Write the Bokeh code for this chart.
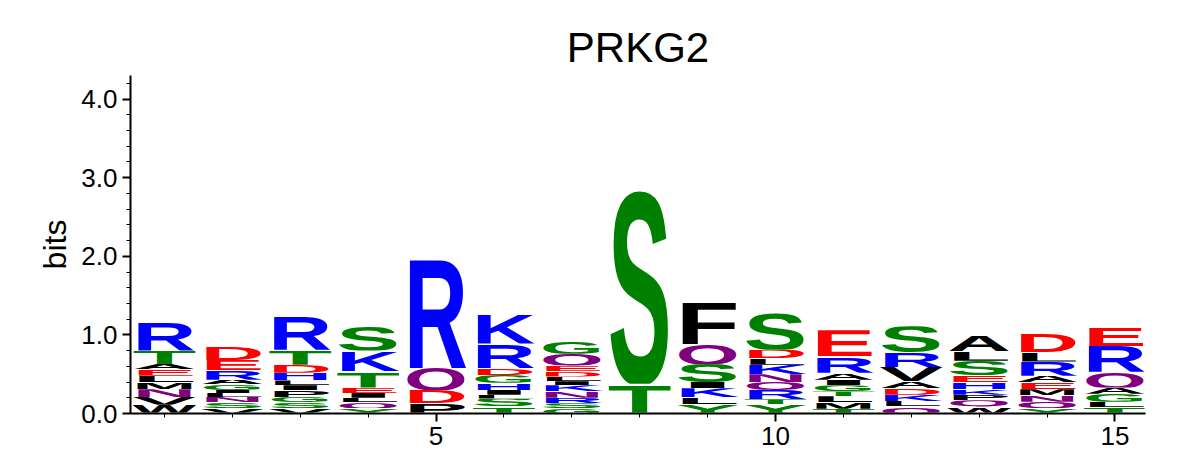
from urllib.parse import quote
from bokeh.plotting import figure
from bokeh.models import ColumnDataSource, FixedTicker
from bokeh.embed import file_html
from bokeh.resources import INLINE

# stacks per position, bottom to top (letter, height in bits)
positions = list(range(1, 16))
letters = [
    ["W", "V", "N", "M", "L", "E", "A", "T", "R"],
    ["V", "S", "N", "L", "I", "G", "A", "R", "E", "D"],
    ["V", "S", "G", "P", "I", "L", "H", "D", "T", "R"],
    ["Y", "Q", "L", "I", "E", "T", "K", "S"],
    ["P", "D", "Q", "R"],
    ["T", "S", "L", "I", "H", "G", "D", "R", "K"],
    ["G", "S", "R", "N", "K", "I", "L", "D", "E", "Q", "G"],
    ["T", "S"],
    ["Y", "L", "K", "I", "S", "Q", "F"],
    ["Y", "T", "R", "Q", "N", "K", "L", "D", "S"],
    ["T", "M", "L", "T", "G", "I", "A", "R", "E"],
    ["Q", "L", "K", "D", "A", "V", "R", "S"],
    ["W", "Q", "P", "K", "H", "E", "S", "L", "A"],
    ["Y", "Q", "N", "M", "E", "A", "R", "L", "D"],
    ["T", "L", "G", "A", "Q", "R", "E"],
]
heights = [
    [0.11, 0.10, 0.10, 0.09, 0.08, 0.08, 0.07, 0.17, 0.38],
    [0.07, 0.07, 0.07, 0.05, 0.04, 0.07, 0.06, 0.12, 0.13, 0.17],
    [0.07, 0.07, 0.07, 0.09, 0.06, 0.06, 0.10, 0.10, 0.19, 0.44],
    [0.07, 0.07, 0.06, 0.06, 0.07, 0.21, 0.26, 0.32],
    [0.13, 0.17, 0.28, 1.42],
    [0.09, 0.10, 0.05, 0.06, 0.09, 0.10, 0.09, 0.31, 0.39],
    [0.07, 0.06, 0.07, 0.08, 0.08, 0.05, 0.06, 0.07, 0.07, 0.15, 0.15],
    [0.38, 2.52],
    [0.12, 0.09, 0.11, 0.08, 0.23, 0.25, 0.55],
    [0.12, 0.06, 0.12, 0.10, 0.10, 0.12, 0.08, 0.11, 0.47],
    [0.06, 0.08, 0.08, 0.06, 0.08, 0.07, 0.09, 0.21, 0.33],
    [0.09, 0.07, 0.08, 0.08, 0.09, 0.18, 0.19, 0.33],
    [0.09, 0.08, 0.07, 0.07, 0.09, 0.09, 0.18, 0.12, 0.20],
    [0.07, 0.08, 0.08, 0.08, 0.09, 0.08, 0.18, 0.12, 0.24],
    [0.08, 0.07, 0.10, 0.08, 0.20, 0.33, 0.24],
]

colors = {}
for aa in "RKH":
    colors[aa] = "#0000ff"
for aa in "DE":
    colors[aa] = "#ff0000"
for aa in "STGYC":
    colors[aa] = "#008000"
for aa in "QN":
    colors[aa] = "#800080"
for aa in "AVLIPWFM":
    colors[aa] = "#000000"


def letter_url(ch, color):
    svg = ('<svg xmlns="http://www.w3.org/2000/svg" viewBox="0 0 100 100" '
           'preserveAspectRatio="none" overflow="visible">'
           '<text x="0" y="100" font-family="Liberation Sans" font-weight="bold" '
           'font-size="139" textLength="100" lengthAdjust="spacingAndGlyphs" '
           f'fill="{color}">{ch}</text></svg>')
    return "data:image/svg+xml;utf8," + quote(svg)


xs, ys, ws, hs, urls = [], [], [], [], []
for pos, lets, hts in zip(positions, letters, heights):
    base = 0.0
    for ch, h in zip(lets, hts):
        xs.append(pos - 0.47)
        ys.append(base)
        ws.append(0.94)
        hs.append(h)
        urls.append(letter_url(ch, colors[ch]))
        base += h

src = ColumnDataSource(dict(x=xs, y=ys, w=ws, h=hs, url=urls))

p = figure(width=1180, height=455, x_range=(0.5, 15.45), y_range=(0, 4.3),
           title="PRKG2", output_backend="svg", toolbar_location=None,
           min_border_left=130, min_border_right=35, min_border_top=75,
           min_border_bottom=42)
p.image_url(url="url", x="x", y="y", w="w", h="h", anchor="bottom_left", source=src)

p.title.align = "center"
p.title.text_font = "Liberation Sans"
p.title.text_font_style = "normal"
p.title.text_font_size = "42px"
p.title.text_color = "black"
p.outline_line_color = None
p.grid.visible = False

p.xaxis.ticker = FixedTicker(ticks=[5, 10, 15], minor_ticks=list(range(1, 16)))
p.yaxis.ticker = FixedTicker(ticks=[0, 1, 2, 3, 4],
                             minor_ticks=[i / 5 for i in range(22)])
p.yaxis.major_label_overrides = {0: "0.0", 1: "1.0", 2: "2.0", 3: "3.0", 4: "4.0"}
p.yaxis.axis_label = "bits"
for ax in (p.xaxis, p.yaxis):
    ax.major_label_text_font = "Liberation Sans"
    ax.major_label_text_font_size = "26px"
    ax.major_label_text_color = "black"
    ax.axis_label_text_font = "Liberation Sans"
    ax.axis_label_text_font_size = "32px"
    ax.axis_label_text_font_style = "normal"
    ax.axis_label_text_color = "black"
    ax.axis_line_width = 2
    ax.major_tick_line_width = 2
    ax.major_tick_out = 8
    ax.major_tick_in = 0
    ax.minor_tick_out = 4
    ax.minor_tick_in = 0

open("out.html", "w").write(file_html(p, INLINE))
